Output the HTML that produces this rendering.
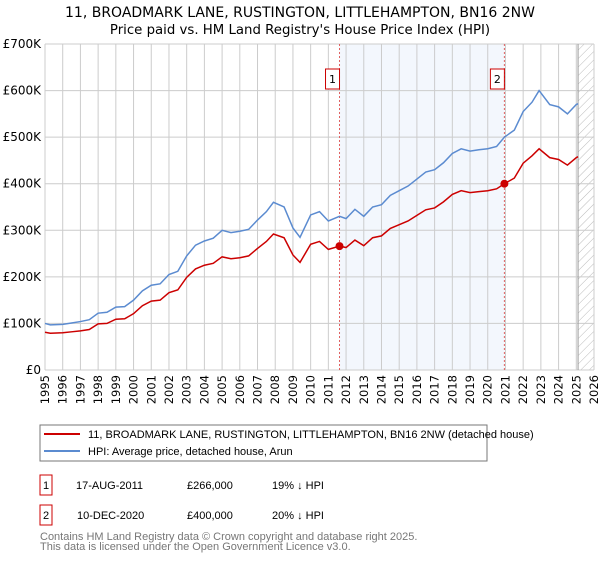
<!DOCTYPE html>
<html><head><meta charset="utf-8"><style>
body{margin:0;background:#fff;font-family:"Liberation Sans","DejaVu Sans",sans-serif;}
svg text{font-family:"DejaVu Sans","Liberation Sans",sans-serif;}
svg text.ls{font-family:"Liberation Sans","DejaVu Sans",sans-serif;}
</style></head><body>
<svg id="c" width="600" height="560" viewBox="0 0 600 560" xmlns="http://www.w3.org/2000/svg">
<defs><pattern id="hatch" width="6" height="6" patternUnits="userSpaceOnUse" patternTransform="rotate(45)"><line x1="0" y1="0" x2="0" y2="6" stroke="#bbb" stroke-width="1"/></pattern></defs>
<text x="300" y="17" text-anchor="middle" font-size="14" fill="#000">11, BROADMARK LANE, RUSTINGTON, LITTLEHAMPTON, BN16 2NW</text>
<text x="300" y="34" text-anchor="middle" font-size="13.3" fill="#000">Price paid vs. HM Land Registry's House Price Index (HPI)</text>
<g id="plot"></g>
<rect x="40" y="425" width="447" height="36" fill="#fff" stroke="#777"/>
<line x1="44" y1="434" x2="80" y2="434" stroke="#cc0000" stroke-width="2"/>
<text class="ls" x="88" y="438" font-size="11">11, BROADMARK LANE, RUSTINGTON, LITTLEHAMPTON, BN16 2NW (detached house)</text>
<line x1="44" y1="451" x2="80" y2="451" stroke="#5b8bd0" stroke-width="2"/>
<text class="ls" x="88" y="455" font-size="11">HPI: Average price, detached house, Arun</text>
<g>
<rect x="40" y="475" width="12" height="20" fill="#fff" stroke="#cc0000"/><text class="ls" x="46" y="489" text-anchor="middle" font-size="11">1</text>
<text class="ls" x="76" y="489" font-size="11">17-AUG-2011</text><text class="ls" x="187" y="489" font-size="11">£266,000</text><text class="ls" x="272" y="489" font-size="11">19% ↓ HPI</text></g>
<g>
<rect x="40" y="505" width="12" height="20" fill="#fff" stroke="#cc0000"/><text class="ls" x="46" y="519" text-anchor="middle" font-size="11">2</text>
<text class="ls" x="77" y="519" font-size="11">10-DEC-2020</text><text class="ls" x="187" y="519" font-size="11">£400,000</text><text class="ls" x="272" y="519" font-size="11">20% ↓ HPI</text></g>
<text class="ls" x="40" y="540" font-size="11" fill="#777">Contains HM Land Registry data © Crown copyright and database right 2025.</text>
<text class="ls" x="40" y="550" font-size="11" fill="#777">This data is licensed under the Open Government Licence v3.0.</text>
</svg>
<script>
const hpiYears=[1995,1995.3,1996,1996.5,1997,1997.5,1998,1998.5,1999,1999.5,2000,2000.5,2001,2001.5,2002,2002.5,2003,2003.5,2004,2004.5,2005,2005.5,2006,2006.5,2007,2007.5,2007.9,2008.5,2009,2009.4,2010,2010.5,2011,2011.63,2012,2012.5,2013,2013.5,2014,2014.5,2015,2015.5,2016,2016.5,2017,2017.5,2018,2018.5,2019,2019.5,2020,2020.5,2020.94,2021.5,2022,2022.5,2022.9,2023.5,2024,2024.5,2025,2025.1];
const hpiValues=[100,97,98,101,104,108,122,124,135,136,150,170,182,185,205,212,245,268,277,283,300,295,298,302,322,340,360,350,305,285,333,340,320,330,325,345,330,350,355,375,385,395,410,425,430,445,465,475,470,473,475,480,500,515,555,575,600,570,565,550,570,572];
const redYears=[1995,1995.3,1996,1996.5,1997,1997.5,1998,1998.5,1999,1999.5,2000,2000.5,2001,2001.5,2002,2002.5,2003,2003.5,2004,2004.5,2005,2005.5,2006,2006.5,2007,2007.5,2007.9,2008.5,2009,2009.4,2010,2010.5,2011,2011.63,2012,2012.5,2013,2013.5,2014,2014.5,2015,2015.5,2016,2016.5,2017,2017.5,2018,2018.5,2019,2019.5,2020,2020.5,2020.94,2021.5,2022,2022.5,2022.9,2023.5,2024,2024.5,2025,2025.1];
const redValues=[81,79,80,82,84,87,99,100,109,110,121,138,148,150,166,172,199,217,225,229,243,239,241,245,261,276,292,284,247,231,270,276,259,266,263,279,267,284,288,304,312,320,332,344,348,361,377,385,381,383,385,389,400,412,444,460,475,456,452,440,456,458];
const saleYears=[2011.63,2020.94];
const saleValues=[266,400];
const yTicks=[0,100,200,300,400,500,600,700];
const yTickLabels=["£0","£100K","£200K","£300K","£400K","£500K","£600K","£700K"];
const xTicks=[];for(let y=1995;y<=2026;y++)xTicks.push(y);
const X0=45,X1=594,Y0=370,Y1=44,yMin=1995,yMax=2026,vMax=700;
const xs=y=>X0+(y-yMin)/(yMax-yMin)*(X1-X0);
const ys=v=>Y0-v/vMax*(Y0-Y1);
const NS="http://www.w3.org/2000/svg",g=document.getElementById('plot');
function mk(t,a){const e=document.createElementNS(NS,t);for(const k in a)e.setAttribute(k,a[k]);g.appendChild(e);return e;}
let e;
e=mk('rect',{x:xs(saleYears[0]),y:Y1,width:xs(saleYears[1])-xs(saleYears[0]),height:Y0-Y1,fill:'#eef3fc',opacity:0.7});


e=mk('rect',{x:xs(2025.1),y:Y1,width:X1-xs(2025.1),height:Y0-Y1,fill:'url(#hatch)'});


xTicks.forEach(t=>{e=mk('line',{x1:xs(t),x2:xs(t),y1:Y1,y2:Y0,stroke:'#ccc','stroke-width':1});


e=mk('text',{x:0,y:0,'font-size':11.5,'text-anchor':'end',transform:`translate(${xs(t)+4},${Y0+5}) rotate(-90)`});e.textContent=t;

});
yTicks.forEach((t,i)=>{e=mk('line',{x1:X0,x2:X1,y1:ys(t),y2:ys(t),stroke:'#ccc','stroke-width':1});


e=mk('text',{x:X0-4,y:ys(t)+4,'font-size':12,'text-anchor':'end'});e.textContent=yTickLabels[i];

});
e=mk('line',{x1:xs(2025.1),x2:xs(2025.1),y1:Y1,y2:Y0,stroke:'#999','stroke-width':1});


saleYears.forEach((s,i)=>{e=mk('line',{x1:xs(s),x2:xs(s),y1:Y1,y2:Y0,stroke:'#e06060','stroke-width':1,'stroke-dasharray':'2,2'});


e=mk('rect',{x:xs(s)-14,y:69,width:14,height:20,fill:'#fff',stroke:'#cc0000'});


e=mk('text',{x:xs(s)-7,y:83,'font-size':11,'text-anchor':'middle'});e.textContent=i+1;

});
e=mk('polyline',{points:hpiYears.map((y,i)=>xs(y)+','+ys(hpiValues[i])).join(' '),fill:'none',stroke:'#5b8bd0','stroke-width':1.5});


e=mk('polyline',{points:redYears.map((y,i)=>xs(y)+','+ys(redValues[i])).join(' '),fill:'none',stroke:'#cc0000','stroke-width':1.5});


saleYears.forEach((s,i)=>{e=mk('circle',{cx:xs(s),cy:ys(saleValues[i]),r:4,fill:'#cc0000'});

});
</script>
</body></html>
